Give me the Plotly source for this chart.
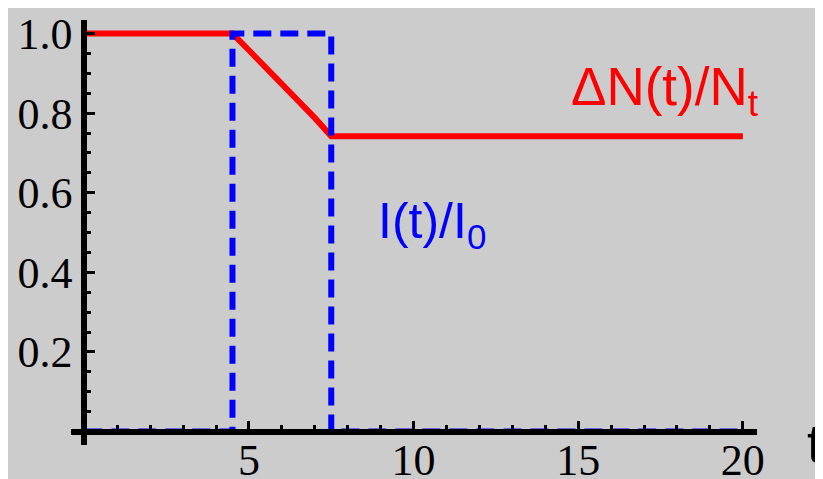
import plotly.graph_objects as go

# Data
t_N = [0, 4.5, 5.0, 5.5, 6.0, 6.5, 7.0, 7.5, 20]
dN_over_Nt = [1.0, 1.0, 0.958, 0.916, 0.875, 0.832, 0.788, 0.742, 0.742]

t_I = [0, 4.5, 7.5, 20]
I_over_I0 = [0, 1, 0, 0]

x_ticks = [5, 10, 15, 20]
y_ticks = [0.2, 0.4, 0.6, 0.8, 1.0]
y_tick_text = ["0.2", "0.4", "0.6", "0.8", "1.0"]

BG = "#cccccc"

fig = go.Figure()
fig.add_trace(go.Scatter(x=t_N, y=dN_over_Nt, mode="lines",
                         line=dict(color="#ff0000", width=6), showlegend=False))
fig.add_trace(go.Scatter(x=t_I, y=I_over_I0, mode="lines", line_shape="hv",
                         line=dict(color="#0000ff", width=6, dash="18px,9px"), showlegend=False))

# page body has an 8px default margin, so the figure starts at (8, 8)
OFF = 8
W, H = 823 - OFF, 479 - OFF
L, T = 71 - OFF, 20 - OFF
R, B = 66, 34
ph = H - T - B
pw = W - L - R

fig.update_layout(
    width=W, height=H,
    margin=dict(l=L, r=R, t=T, b=B, autoexpand=False),
    paper_bgcolor=BG, plot_bgcolor=BG,
    xaxis=dict(range=[-0.404, 20.43], anchor="free", position=13.5 / ph,
               automargin=False,
               showgrid=False, zeroline=False, showline=True, linecolor="black", linewidth=6,
               tickvals=x_ticks, ticks="inside", ticklen=8, tickwidth=3, tickcolor="black",
               ticklabelstandoff=-12,
               minor=dict(dtick=1, tick0=0, ticks="inside", ticklen=4, tickwidth=3, tickcolor="black"),
               tickfont=dict(family="Liberation Serif", size=44, color="black")),
    yaxis=dict(range=[-0.0339, 1.034], anchor="free", position=13.3 / pw,
               automargin=False,
               showgrid=False, zeroline=False, showline=True, linecolor="black", linewidth=6,
               tickvals=y_ticks, ticktext=y_tick_text, ticks="inside", ticklen=8, tickwidth=3,
               tickcolor="black", ticklabelstandoff=0,
               minor=dict(dtick=0.05, tick0=0, ticks="inside", ticklen=4, tickwidth=3, tickcolor="black"),
               tickfont=dict(family="Liberation Serif", size=44, color="black")),
)

fig.add_annotation(x=14.72, y=0.858, xref="x", yref="y", xanchor="left", yanchor="middle",
                   text="ΔN(t)/N<sub>t</sub>", showarrow=False,
                   font=dict(family="Liberation Sans", size=53, color="#ff0000"))
fig.add_annotation(x=8.86, y=0.52, xref="x", yref="y", xanchor="left", yanchor="middle",
                   text="I(t)/I<sub>0</sub>", showarrow=False,
                   font=dict(family="Liberation Sans", size=50, color="#0000ff"))
fig.add_annotation(x=(805 - OFF - L) / pw, y=2 / ph, xref="paper", yref="paper",
                   xanchor="left", yanchor="middle", text="t", showarrow=False,
                   font=dict(family="Liberation Sans", size=54, color="black"))

fig.write_html("out.html")
